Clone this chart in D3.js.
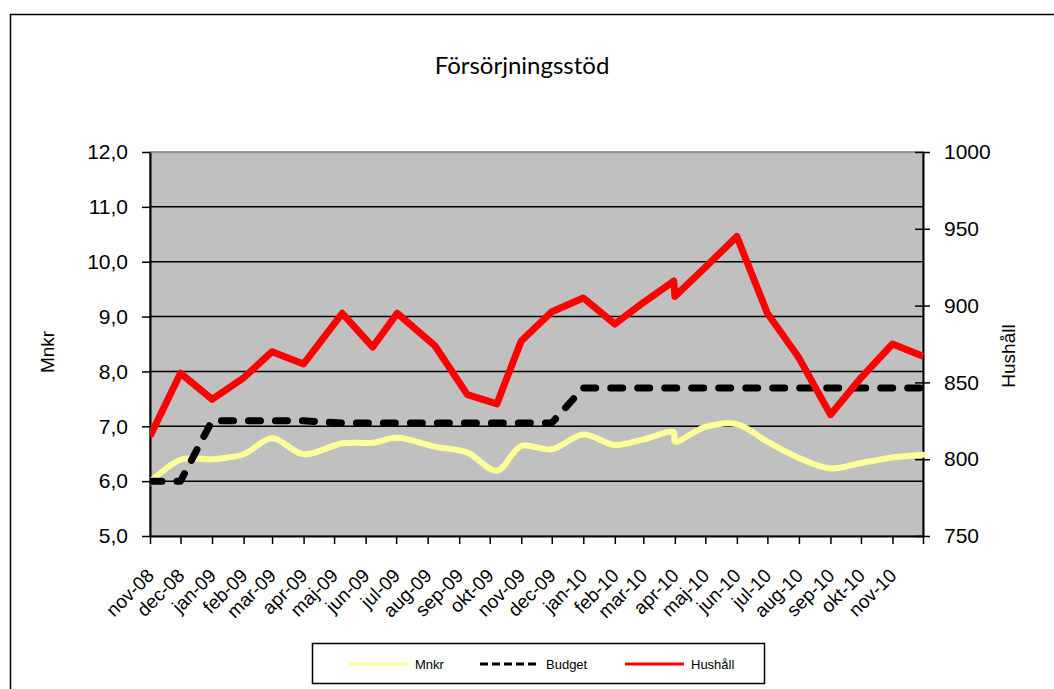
<!DOCTYPE html>
<html>
<head>
<meta charset="utf-8">
<script src="https://cdn.jsdelivr.net/npm/d3@7"></script>
<style>
  body { margin: 0; background: #fff; }
  svg text { font-family: "Liberation Sans", Arial, sans-serif; fill: #000; }
</style>
</head>
<body>
<div id="main"></div>
<script>
// data dates (the 2009 values are not on the 1st of the month)
const dates = [
  '2008-11-01', '2008-12-01', '2009-01-01', '2009-02-01', '2009-03-01', '2009-04-01',
  '2009-05-09', '2009-06-08', '2009-07-02', '2009-08-08', '2009-09-09', '2009-10-08',
  '2009-11-01', '2009-12-01', '2010-01-01', '2010-02-01', '2010-03-01', '2010-03-31',
  '2010-04-01', '2010-05-01', '2010-06-01', '2010-07-01', '2010-08-01', '2010-09-01',
  '2010-10-01', '2010-11-01', '2010-12-01'
];
const mnkr = [
  5.98, 6.39, 6.40, 6.49, 6.78, 6.49, 6.69, 6.70, 6.79, 6.63, 6.52, 6.19,
  6.64, 6.58, 6.85, 6.66, 6.76, 6.89, 6.72, 6.99, 7.04, 6.72, 6.42, 6.23,
  6.33, 6.43, 6.48
];
const budget = [
  6.0, 6.0, 7.1, 7.1, 7.1, 7.1, 7.06, 7.06, 7.06, 7.06, 7.06, 7.06,
  7.06, 7.06, 7.7, 7.7, 7.7, 7.7, 7.7, 7.7, 7.7, 7.7, 7.7, 7.7,
  7.7, 7.7, 7.7
];
const hushall = [
  815, 856, 839, 853, 870, 862, 895, 873, 895, 874, 842, 836,
  877, 896, 905, 888, 902, 916, 906, 925, 945, 895, 866, 829,
  853, 875, 867
];

const monthLabels = [
  'nov-08', 'dec-08', 'jan-09', 'feb-09', 'mar-09', 'apr-09', 'maj-09', 'jun-09',
  'jul-09', 'aug-09', 'sep-09', 'okt-09', 'nov-09', 'dec-09', 'jan-10', 'feb-10',
  'mar-10', 'apr-10', 'maj-10', 'jun-10', 'jul-10', 'aug-10', 'sep-10', 'okt-10', 'nov-10'
];
const leftTicks = [5, 6, 7, 8, 9, 10, 11, 12];
const rightTicks = [750, 800, 850, 900, 950, 1000];

const parseDate = d3.timeParse('%Y-%m-%d');
const pts = dates.map(parseDate);

const
  width = 1054,
  height = 689,
  plotLeft = 150,
  plotRight = 923,
  plotTop = 152,
  plotBottom = 536;

const x = d3.scaleTime()
            .domain([parseDate('2008-11-01'), parseDate('2010-12-01')])
            .range([plotLeft, plotRight]);
const yL = d3.scaleLinear().domain([5, 12]).range([plotBottom, plotTop]);
const yR = d3.scaleLinear().domain([750, 1000]).range([plotBottom, plotTop]);

const sv = d3.formatLocale({decimal: ',', thousands: '', grouping: [3], currency: ['', ' kr']});
const fmt1 = sv.format('.1f');
const fmt0 = sv.format('d');

const svg = d3.select('#main').append('svg')
  .attr('width', width).attr('height', height);

// outer chart frame
svg.append('rect')
  .attr('x', 10.5).attr('y', 14.5).attr('width', 1060).attr('height', 700)
  .attr('fill', 'none').attr('stroke', '#000').attr('stroke-width', 1.5);

svg.append('text')
  .attr('x', 522).attr('y', 74)
  .attr('text-anchor', 'middle')
  .style('font-family', 'Lato, "Open Sans", sans-serif')
  .style('font-size', '24px')
  .text('Försörjningsstöd');

// plot area
svg.append('rect')
  .attr('x', plotLeft).attr('y', plotTop)
  .attr('width', plotRight - plotLeft).attr('height', plotBottom - plotTop)
  .attr('fill', '#c0c0c0').attr('stroke', '#808080').attr('stroke-width', 1.5);

svg.append('g').selectAll('line')
  .data(leftTicks.slice(1, -1))
  .join('line')
  .attr('x1', plotLeft).attr('x2', plotRight)
  .attr('y1', d => yL(d)).attr('y2', d => yL(d))
  .attr('stroke', '#000').attr('stroke-width', 1.5);

// axes
const months = d3.timeMonth.range(parseDate('2008-11-01'), d3.timeDay.offset(parseDate('2010-12-01'), 1));

const xAxis = d3.axisBottom(x).tickValues(months)
  .tickFormat((d, i) => monthLabels[i] || '').tickSize(8).tickSizeOuter(0);
const gx = svg.append('g').attr('transform', `translate(0, ${plotBottom})`).call(xAxis);
gx.select('.domain').attr('stroke-width', 2);
gx.selectAll('.tick line').attr('stroke-width', 1.5);
gx.selectAll('.tick text')
  .style('font-size', '19px')
  .attr('text-anchor', 'end')
  .attr('dy', '0.35em')
  .attr('y', 0)
  .attr('transform', 'translate(0, 36) rotate(-45)');

const yAxisL = d3.axisLeft(yL).tickValues(leftTicks).tickFormat(fmt1)
  .tickSize(8).tickSizeOuter(0).tickPadding(14);
const gl = svg.append('g').attr('transform', `translate(${plotLeft}, 0)`).call(yAxisL);
gl.select('.domain').attr('stroke-width', 2);
gl.selectAll('.tick line').attr('stroke-width', 1.5);
gl.selectAll('.tick text').style('font-size', '21px');

const yAxisR = d3.axisRight(yR).tickValues(rightTicks).tickFormat(fmt0)
  .tickSize(7).tickSizeOuter(0).tickPadding(14);
const gr = svg.append('g').attr('transform', `translate(${plotRight}, 0)`).call(yAxisR);
gr.select('.domain').attr('stroke-width', 2);
gr.selectAll('.tick line').attr('x1', -8).attr('stroke-width', 1.5);
gr.selectAll('.tick text').style('font-size', '21px');

svg.append('text')
  .attr('transform', 'translate(54, 352) rotate(-90)')
  .attr('text-anchor', 'middle')
  .style('font-size', '19px')
  .text('Mnkr');
svg.append('text')
  .attr('transform', 'translate(1015, 356) rotate(-90)')
  .attr('text-anchor', 'middle')
  .style('font-size', '19px')
  .text('Hushåll');

// series
svg.append('clipPath').attr('id', 'plotclip')
  .append('rect').attr('x', plotLeft).attr('y', 0).attr('width', plotRight - plotLeft + 3).attr('height', height);

const lines = svg.append('g').attr('clip-path', 'url(#plotclip)');

const lineMnkr = d3.line()
  .x((d, i) => x(pts[i])).y(d => yL(d))
  .curve(d3.curveCatmullRom.alpha(0.5));
const lineBudget = d3.line()
  .x((d, i) => x(pts[i])).y(d => yL(d));
const lineHus = d3.line()
  .x((d, i) => x(pts[i])).y(d => yR(d));

lines.append('path').attr('d', lineMnkr(mnkr))
  .attr('fill', 'none').attr('stroke', '#ffff99').attr('stroke-width', 6)
  .attr('stroke-linejoin', 'round').attr('stroke-linecap', 'round');
lines.append('path').attr('d', lineBudget(budget))
  .attr('fill', 'none').attr('stroke', '#000').attr('stroke-width', 7)
  .attr('stroke-dasharray', '12,15')
  .attr('stroke-linejoin', 'round').attr('stroke-linecap', 'round');
lines.append('path').attr('d', lineHus(hushall))
  .attr('fill', 'none').attr('stroke', '#ff0000').attr('stroke-width', 7)
  .attr('stroke-linejoin', 'round');

// legend
const legend = svg.append('g');
legend.append('rect')
  .attr('x', 312.5).attr('y', 643.5).attr('width', 452).attr('height', 40)
  .attr('fill', '#fff').attr('stroke', '#000').attr('stroke-width', 1.5);

const legendItems = [
  {name: 'Mnkr', color: '#ffff99', dash: null, x: 349},
  {name: 'Budget', color: '#000', dash: '8,4', x: 480},
  {name: 'Hushåll', color: '#ff0000', dash: null, x: 625}
];
const li = legend.selectAll('g.item').data(legendItems).join('g')
  .attr('class', 'item')
  .attr('transform', d => `translate(${d.x}, 664)`);
li.append('line')
  .attr('x1', 0).attr('x2', 59).attr('y1', 0).attr('y2', 0)
  .attr('stroke', d => d.color).attr('stroke-width', 3)
  .attr('stroke-dasharray', d => d.dash);
li.append('text')
  .attr('x', 66).attr('dy', '0.35em')
  .style('font-size', '13px')
  .text(d => d.name);
</script>
</body>
</html>
